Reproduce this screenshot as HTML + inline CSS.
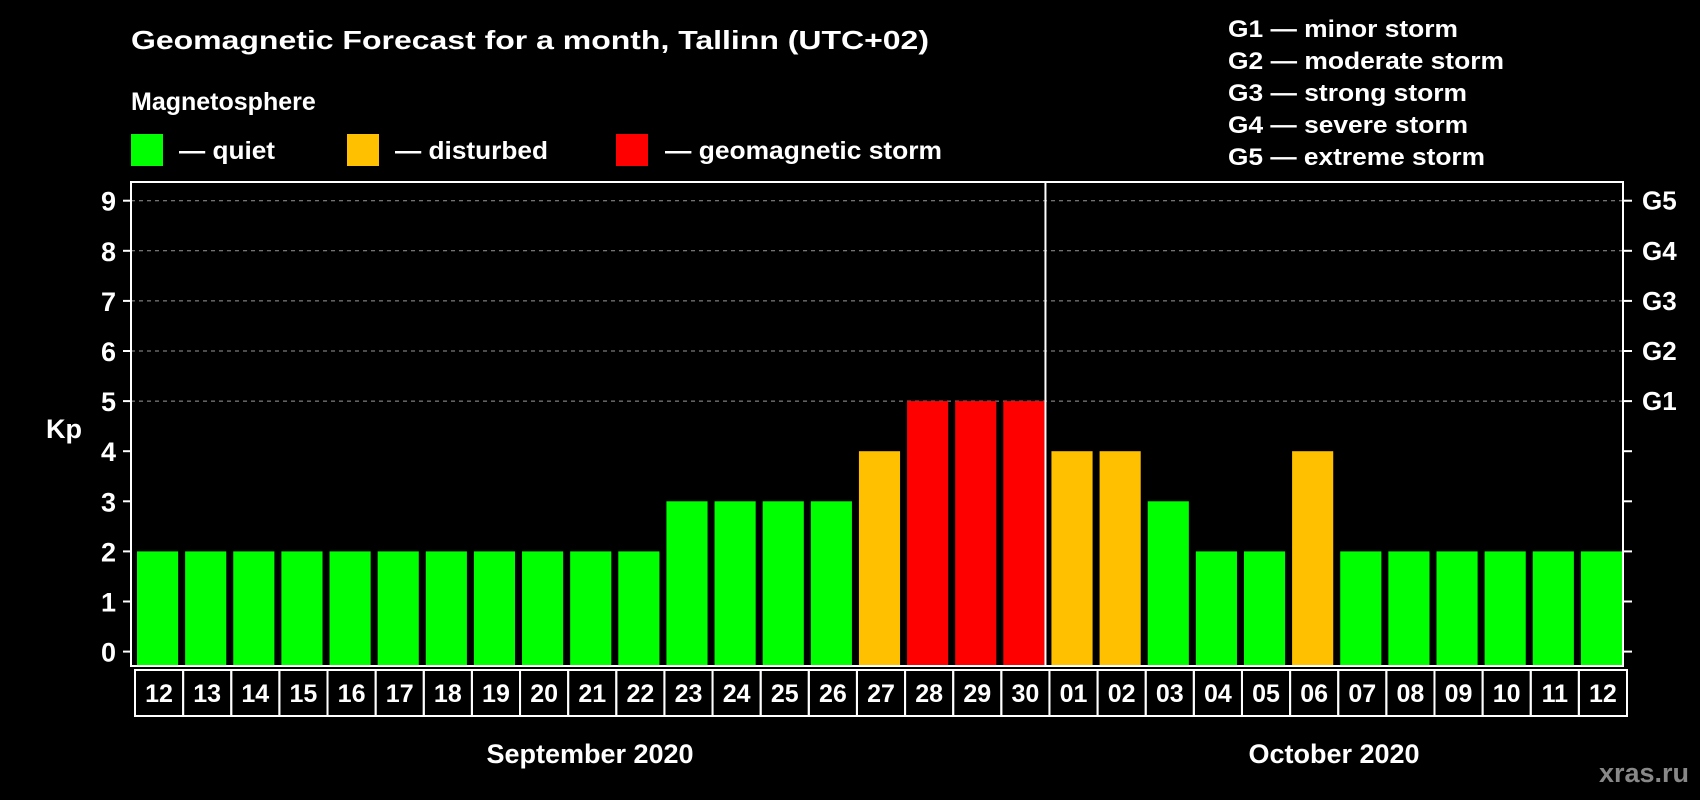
<!DOCTYPE html>
<html><head><meta charset="utf-8"><style>
html,body{margin:0;padding:0;background:#000;}
svg{display:block;font-family:"Liberation Sans",Arial,sans-serif;font-weight:bold;}
</style></head><body>
<svg id="chart" width="1700" height="800" viewBox="0 0 1700 800" xmlns="http://www.w3.org/2000/svg">
<rect width="1700" height="800" fill="#000"/>
<text x="131" y="49" fill="#fff" font-size="26" textLength="798" lengthAdjust="spacingAndGlyphs">Geomagnetic Forecast for a month, Tallinn (UTC+02)</text>
<text x="131" y="110" fill="#fff" font-size="25">Magnetosphere</text>
<g>
<rect x="131" y="134" width="32" height="32" fill="#00ff00"/>
<text x="179" y="159" fill="#fff" font-size="25" textLength="96" lengthAdjust="spacingAndGlyphs">— quiet</text></g>
<g>
<rect x="347" y="134" width="32" height="32" fill="#ffc000"/>
<text x="395" y="159" fill="#fff" font-size="25" textLength="153" lengthAdjust="spacingAndGlyphs">— disturbed</text></g>
<g>
<rect x="616" y="134" width="32" height="32" fill="#ff0000"/>
<text x="665" y="159" fill="#fff" font-size="25" textLength="277" lengthAdjust="spacingAndGlyphs">— geomagnetic storm</text></g>
<g fill="#fff" font-size="24">
<text x="1228" y="37" textLength="230" lengthAdjust="spacingAndGlyphs">G1 — minor storm</text>
<text x="1228" y="69" textLength="276" lengthAdjust="spacingAndGlyphs">G2 — moderate storm</text>
<text x="1228" y="101" textLength="239" lengthAdjust="spacingAndGlyphs">G3 — strong storm</text>
<text x="1228" y="133" textLength="240" lengthAdjust="spacingAndGlyphs">G4 — severe storm</text>
<text x="1228" y="165" textLength="257" lengthAdjust="spacingAndGlyphs">G5 — extreme storm</text>
</g>
<text x="64" y="438" fill="#fff" font-size="27" text-anchor="middle">Kp</text>
<g id="plot"></g>
<text x="590" y="763" fill="#fff" font-size="27" text-anchor="middle">September 2020</text>
<text x="1334" y="763" fill="#fff" font-size="27" text-anchor="middle">October 2020</text>
<text x="1689" y="782" fill="#888" font-size="27" text-anchor="end">xras.ru</text>
</svg>
<script>
const days=["12","13","14","15","16","17","18","19","20","21","22","23","24","25","26","27","28","29","30","01","02","03","04","05","06","07","08","09","10","11","12"];
const kp=[2,2,2,2,2,2,2,2,2,2,2,3,3,3,3,4,5,5,5,4,4,3,2,2,4,2,2,2,2,2,2];
const yTicks=[0,1,2,3,4,5,6,7,8,9];
const gLabels=["G1","G2","G3","G4","G5"];
const gLevels=[5,6,7,8,9];
const monthSplit=19;

const NS="http://www.w3.org/2000/svg";
const L=131,R=1623,T=182,B=666;
const y0=651.6,unit=50.1;
const cw=(R-L)/days.length;
const ys=v=>y0-v*unit;
const xs=i=>L+i*cw;
const col=v=>v>=5?"#ff0000":(v>=4?"#ffc000":"#00ff00");
const plot=document.getElementById("plot");
function mk(tag,attrs,parent){const e=document.createElementNS(NS,tag);for(const k in attrs)e.setAttribute(k,attrs[k]);(parent||plot).appendChild(e);return e;}

gLevels.forEach((v,i)=>{
  const g=mk("line",{x1:L,x2:R,y1:ys(v),y2:ys(v),stroke:"#999","stroke-dasharray":"4,4","stroke-width":1});
  
  
  const t=mk("text",{x:1642,y:ys(v)+9,fill:"#fff","font-size":26});
  t.textContent=gLabels[i];
  
  
});
yTicks.forEach(v=>{
  const tk=mk("line",{x1:L-8,x2:L,y1:ys(v),y2:ys(v),stroke:"#fff","stroke-width":2});
  
  
  const tr=mk("line",{x1:R,x2:R+9,y1:ys(v),y2:ys(v),stroke:"#fff","stroke-width":2});
  
  
  const t=mk("text",{x:116,y:ys(v)+10,fill:"#fff","font-size":27,"text-anchor":"end"});
  t.textContent=v;
  
  
});
kp.forEach((v,i)=>{
  const r=mk("rect",{x:xs(i)+6,y:ys(v),width:cw-7,height:B-1-ys(v),fill:col(v)});
  
  
});
const fr=mk("rect",{x:L,y:T,width:R-L,height:B-T,fill:"none",stroke:"#fff","stroke-width":2});


const dv=mk("line",{x1:xs(monthSplit),x2:xs(monthSplit),y1:T,y2:B,stroke:"#fff","stroke-width":2});


days.forEach((d,i)=>{
  const c=mk("rect",{x:xs(i)+4,y:670,width:cw,height:46,fill:"none",stroke:"#fff","stroke-width":2});
  
  
  const t=mk("text",{x:xs(i)+4+cw/2,y:702,fill:"#fff","font-size":25,"text-anchor":"middle"});
  t.textContent=d;
  
  
});
</script>
</body></html>
